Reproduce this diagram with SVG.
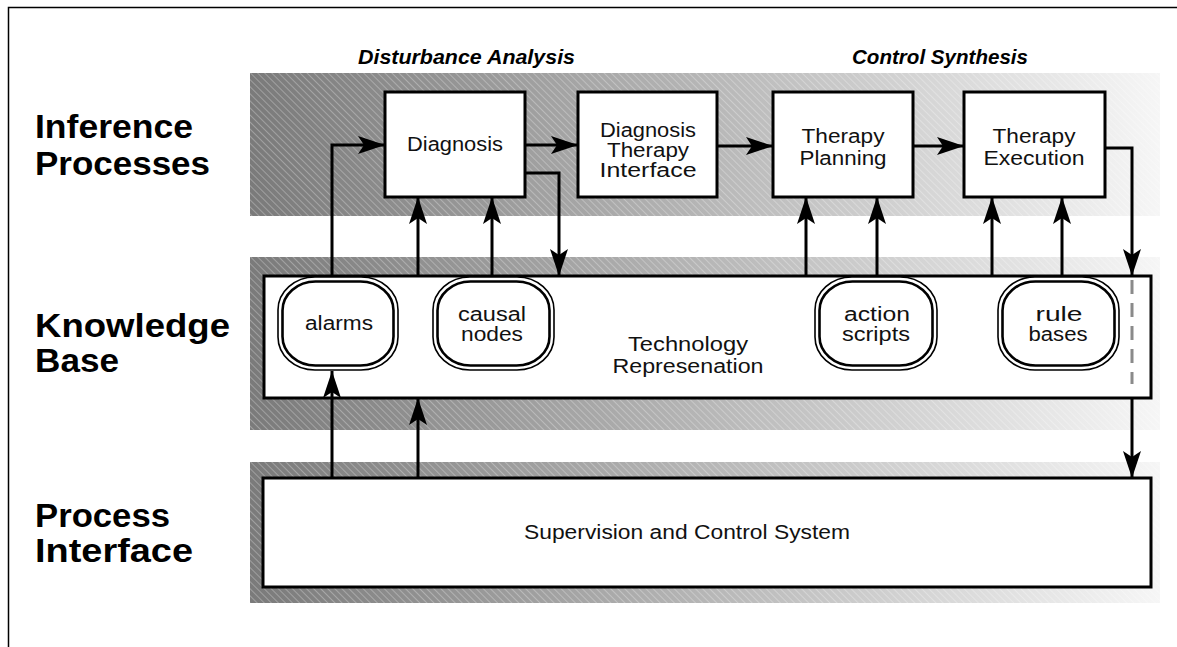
<svg xmlns="http://www.w3.org/2000/svg" width="1177" height="647" viewBox="0 0 1177 647">
<style>
.band{fill:url(#bandGrad)}
.hatch{fill:url(#hatch)}
.box{fill:#fff;stroke:#000;stroke-width:3}
.pillO{fill:#fff;stroke:#000;stroke-width:1.6}
.pillI{fill:none;stroke:#000;stroke-width:2.6}
.t{font-family:"Liberation Sans",Arial,sans-serif;font-size:20px;fill:#111;text-anchor:middle}
.lab{font-family:"Liberation Sans",Arial,sans-serif;font-size:33px;font-weight:bold;fill:#000}
.ttl{font-family:"Liberation Sans",Arial,sans-serif;font-size:20px;font-weight:bold;font-style:italic;fill:#000}
.c{fill:none;stroke:#000;stroke-width:3}
.ca{fill:none;stroke:#000;stroke-width:3;marker-end:url(#arr)}
.dash{fill:none;stroke:#8a8a8a;stroke-width:3;stroke-dasharray:14,9}
</style>
<defs>
<linearGradient id="bandGrad" x1="0" y1="0" x2="1" y2="0">
<stop offset="0" stop-color="#7a7a7a"/>
<stop offset="0.5" stop-color="#b6b6b6"/>
<stop offset="1" stop-color="#f6f6f6"/>
</linearGradient>
<pattern id="hatch" patternUnits="userSpaceOnUse" width="5" height="10" patternTransform="rotate(-45)">
<line x1="0.5" y1="0" x2="0.5" y2="10" stroke="#ffffff" stroke-opacity="0.28" stroke-width="1"/>
</pattern>
<marker id="arr" markerUnits="userSpaceOnUse" markerWidth="30" markerHeight="22" viewBox="0 -11 28 22" refX="27" refY="0" orient="auto">
<path d="M27,0 L0,-9 L6,0 L0,9 Z" fill="#000"/>
</marker>
</defs>
<rect width="1177" height="647" fill="#fff"/>
<path d="M8.5,647 V7.5 H1177" fill="none" stroke="#000" stroke-width="1.5"/>

<g id="layer-inference">
<rect class="band" x="250" y="73" width="910" height="143"/>
<rect class="hatch" x="250" y="73" width="910" height="143"/>
<text class="lab" x="35" y="138" textLength="158" lengthAdjust="spacingAndGlyphs">Inference</text>
<text class="lab" x="35" y="175" textLength="175" lengthAdjust="spacingAndGlyphs">Processes</text>
<text class="ttl" x="358" y="64" textLength="217" lengthAdjust="spacingAndGlyphs">Disturbance Analysis</text>
<text class="ttl" x="852" y="64" textLength="176" lengthAdjust="spacingAndGlyphs">Control Synthesis</text>
</g>
<g id="layer-knowledge">
<rect class="band" x="250" y="257" width="910" height="173"/>
<rect class="hatch" x="250" y="257" width="910" height="173"/>
<text class="lab" x="35" y="337" textLength="195" lengthAdjust="spacingAndGlyphs">Knowledge</text>
<text class="lab" x="35" y="372" textLength="84" lengthAdjust="spacingAndGlyphs">Base</text>
</g>
<g id="layer-process">
<rect class="band" x="250" y="462" width="910" height="141"/>
<rect class="hatch" x="250" y="462" width="910" height="141"/>
<text class="lab" x="35" y="527" textLength="135" lengthAdjust="spacingAndGlyphs">Process</text>
<text class="lab" x="35" y="562" textLength="158" lengthAdjust="spacingAndGlyphs">Interface</text>
</g>

<g id="diagnosis">
<rect class="box" x="385" y="92" width="140" height="105"/>
<text class="t" x="455" y="151" textLength="96" lengthAdjust="spacingAndGlyphs">Diagnosis</text>
</g>
<g id="diagnosis-therapy-interface">
<rect class="box" x="578" y="92" width="139" height="105"/>
<text class="t" x="648" y="137" textLength="96" lengthAdjust="spacingAndGlyphs">Diagnosis</text>
<text class="t" x="648" y="157" textLength="82" lengthAdjust="spacingAndGlyphs">Therapy</text>
<text class="t" x="648" y="177" textLength="97" lengthAdjust="spacingAndGlyphs">Interface</text>
</g>
<g id="therapy-planning">
<rect class="box" x="773" y="92" width="140" height="105"/>
<text class="t" x="843" y="143" textLength="83" lengthAdjust="spacingAndGlyphs">Therapy</text>
<text class="t" x="843" y="165" textLength="87" lengthAdjust="spacingAndGlyphs">Planning</text>
</g>
<g id="therapy-execution">
<rect class="box" x="964" y="92" width="141" height="105"/>
<text class="t" x="1034" y="143" textLength="83" lengthAdjust="spacingAndGlyphs">Therapy</text>
<text class="t" x="1034" y="165" textLength="101" lengthAdjust="spacingAndGlyphs">Execution</text>
</g>

<g id="technology-representation">
<rect class="box" x="264" y="276" width="887" height="122"/>
<text class="t" x="688" y="351" textLength="120" lengthAdjust="spacingAndGlyphs">Technology</text>
<text class="t" x="688" y="373" textLength="151" lengthAdjust="spacingAndGlyphs">Represenation</text>
</g>
<g id="alarms">
<rect class="pillO" x="278" y="277" width="120" height="93" rx="37" ry="33"/>
<rect class="pillI" x="282.5" y="281.5" width="111" height="84" rx="33" ry="29"/>
<text class="t" x="339" y="330" textLength="68" lengthAdjust="spacingAndGlyphs">alarms</text>
</g>
<g id="causal-nodes">
<rect class="pillO" x="433" y="277" width="121" height="93" rx="37" ry="33"/>
<rect class="pillI" x="437.5" y="281.5" width="112" height="84" rx="33" ry="29"/>
<text class="t" x="492" y="321" textLength="68" lengthAdjust="spacingAndGlyphs">causal</text>
<text class="t" x="492" y="341" textLength="62" lengthAdjust="spacingAndGlyphs">nodes</text>
</g>
<g id="action-scripts">
<rect class="pillO" x="815" y="277" width="122" height="93" rx="37" ry="33"/>
<rect class="pillI" x="819.5" y="281.5" width="113" height="84" rx="33" ry="29"/>
<text class="t" x="877" y="321" textLength="66" lengthAdjust="spacingAndGlyphs">action</text>
<text class="t" x="876" y="341" textLength="68" lengthAdjust="spacingAndGlyphs">scripts</text>
</g>
<g id="rule-bases">
<rect class="pillO" x="998" y="277" width="121" height="93" rx="37" ry="33"/>
<rect class="pillI" x="1002.5" y="281.5" width="112" height="84" rx="33" ry="29"/>
<text class="t" x="1059" y="321" textLength="47" lengthAdjust="spacingAndGlyphs">rule</text>
<text class="t" x="1058" y="341" textLength="59" lengthAdjust="spacingAndGlyphs">bases</text>
</g>
<g id="supervision-control">
<rect class="box" x="263" y="478" width="888" height="109"/>
<text class="t" x="687" y="539" textLength="326" lengthAdjust="spacingAndGlyphs">Supervision and Control System</text>
</g>

<g id="connectors">
<path class="ca" d="M332,478 V371"/>
<path class="ca" d="M418,478 V398"/>
<path class="ca" d="M332,277 V145 H385"/>
<path class="ca" d="M418,276 V197"/>
<path class="ca" d="M492,277 V197"/>
<path class="ca" d="M525,173 H559 V276"/>
<path class="ca" d="M525,145 H578"/>
<path class="ca" d="M717,146 H773"/>
<path class="ca" d="M913,146 H964"/>
<path class="ca" d="M806,276 V197"/>
<path class="ca" d="M877,277 V197"/>
<path class="ca" d="M992,276 V197"/>
<path class="ca" d="M1062,277 V197"/>
<path class="ca" d="M1105,148 H1132 V276"/>
<path class="dash" d="M1132,280 V384"/>
<path class="ca" d="M1132,398 V478"/>
</g>
</svg>
